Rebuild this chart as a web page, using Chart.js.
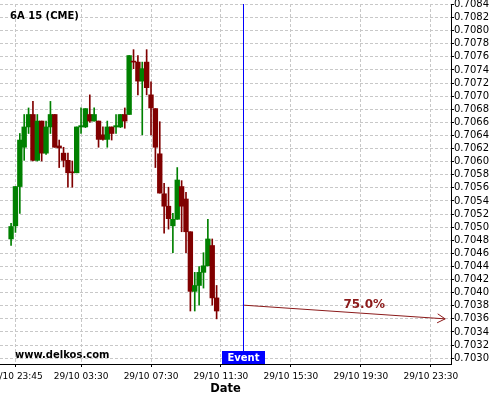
<!DOCTYPE html>
<html>
<head>
<meta charset="utf-8">
<script src="https://cdn.jsdelivr.net/npm/chart.js@4.4.1/dist/chart.umd.min.js"></script>
<style>
  html, body { margin: 0; padding: 0; background: #fff; }
  #wrap { width: 500px; height: 400px; position: relative; }
</style>
</head>
<body>
<div id="wrap"><canvas id="chart"></canvas></div>
<script>
// 15 minute candles, 6A (CME)
const times = [
  '28/10 23:30', '28/10 23:45', '29/10 00:00', '29/10 00:15', '29/10 00:30', '29/10 00:45',
  '29/10 01:00', '29/10 01:15', '29/10 01:30', '29/10 01:45', '29/10 02:00', '29/10 02:15',
  '29/10 02:30', '29/10 02:45', '29/10 03:00', '29/10 03:15', '29/10 03:30', '29/10 03:45',
  '29/10 04:00', '29/10 04:15', '29/10 04:30', '29/10 04:45', '29/10 05:00', '29/10 05:15',
  '29/10 05:30', '29/10 05:45', '29/10 06:00', '29/10 06:15', '29/10 06:30', '29/10 06:45',
  '29/10 07:00', '29/10 07:15', '29/10 07:30', '29/10 07:45', '29/10 08:00', '29/10 08:15',
  '29/10 08:30', '29/10 08:45', '29/10 09:00', '29/10 09:15', '29/10 09:30', '29/10 09:45',
  '29/10 10:00', '29/10 10:15', '29/10 10:30', '29/10 10:45', '29/10 11:00', '29/10 11:15'
];
const opens = [
  0.70482, 0.70502, 0.70562, 0.70622, 0.70653, 0.70672,
  0.70602, 0.70662, 0.70613, 0.70653, 0.70672, 0.70624,
  0.70613, 0.70602, 0.70584, 0.70583, 0.70653, 0.70653,
  0.70672, 0.70662, 0.70662, 0.70641, 0.70634, 0.70653,
  0.70653, 0.70653, 0.70672, 0.70672, 0.70753, 0.70752,
  0.70723, 0.70752, 0.70702, 0.70681, 0.70612, 0.70551,
  0.70532, 0.70502, 0.70512, 0.70562, 0.70543, 0.70493,
  0.70402, 0.70411, 0.70431, 0.70441, 0.70472, 0.70392
];
const highs = [
  0.70506, 0.70562, 0.70643, 0.70672, 0.70682, 0.70692,
  0.70672, 0.70662, 0.70662, 0.70692, 0.70672, 0.70633,
  0.70622, 0.70613, 0.70601, 0.70653, 0.70682, 0.70681,
  0.70702, 0.70682, 0.70662, 0.70653, 0.70662, 0.70653,
  0.70672, 0.70672, 0.70682, 0.70762, 0.70771, 0.70762,
  0.70752, 0.70771, 0.70722, 0.70681, 0.70661, 0.70567,
  0.70561, 0.70521, 0.70591, 0.70571, 0.70553, 0.70493,
  0.70431, 0.70440, 0.70461, 0.70512, 0.70482, 0.70411
];
const lows = [
  0.70472, 0.70492, 0.70521, 0.70602, 0.70643, 0.70601,
  0.70601, 0.70601, 0.70611, 0.70643, 0.70622, 0.70591,
  0.70592, 0.70561, 0.70561, 0.70583, 0.70643, 0.70652,
  0.70660, 0.70662, 0.70622, 0.70633, 0.70622, 0.70633,
  0.70643, 0.70652, 0.70651, 0.70672, 0.70742, 0.70702,
  0.70641, 0.70702, 0.70641, 0.70591, 0.70552, 0.70491,
  0.70497, 0.70461, 0.70512, 0.70493, 0.70461, 0.70372,
  0.70372, 0.70381, 0.70407, 0.70441, 0.70381, 0.70360
];
const closes = [
  0.70501, 0.70562, 0.70633, 0.70653, 0.70672, 0.70602,
  0.70662, 0.70613, 0.70653, 0.70672, 0.70622, 0.70621,
  0.70602, 0.70583, 0.70583, 0.70653, 0.70655, 0.70681,
  0.70662, 0.70672, 0.70634, 0.70634, 0.70653, 0.70643,
  0.70655, 0.70672, 0.70662, 0.70762, 0.70752, 0.70723,
  0.70742, 0.70713, 0.70682, 0.70622, 0.70552, 0.70532,
  0.70513, 0.70512, 0.70572, 0.70532, 0.70493, 0.70402,
  0.70411, 0.70431, 0.70441, 0.70482, 0.70392, 0.70372
];

const xTickLabels = ['28/10 23:45', '29/10 03:30', '29/10 07:30', '29/10 11:30', '29/10 15:30', '29/10 19:30', '29/10 23:30'];

const eventTime = '29/10 12:45';
const forecastTimes = ['29/10 12:45', '30/10 00:19'];
const forecastValues = [0.70381, 0.70360];
const forecastText = '75.0%';

const UP = '#008000', DOWN = '#800000', ARROW = '#8b1a1a';
const FONT = 'DejaVu Sans';

// 'dd/mm hh:mm' -> minutes from 29/10 00:00
function toMinutes(s){
  const [d, hm] = s.split(' ');
  const day = parseInt(d.split('/')[0], 10);
  const [h, m] = hm.split(':').map(Number);
  return (day - 29) * 1440 + h * 60 + m;
}

const mins = times.map(toMinutes);
const tickMins = xTickLabels.map(toMinutes);
const eventMin = toMinutes(eventTime);
const candleColors = opens.map((o, i) => closes[i] >= o ? UP : DOWN);

const overlay = {
  id: 'overlay',
  afterDatasetsDraw(chart){
    const { ctx, chartArea: a, scales: { x, y } } = chart;
    ctx.save();

    // event line
    const ex = Math.round(x.getPixelForValue(eventMin)) + 0.5;
    ctx.strokeStyle = '#0000ff';
    ctx.lineWidth = 1;
    ctx.beginPath();
    ctx.moveTo(ex, a.top);
    ctx.lineTo(ex, a.bottom);
    ctx.stroke();

    // arrow head + percentage
    const x1 = x.getPixelForValue(toMinutes(forecastTimes[0]));
    const y1 = y.getPixelForValue(forecastValues[0]);
    const x2 = x.getPixelForValue(toMinutes(forecastTimes[1]));
    const y2 = y.getPixelForValue(forecastValues[1]);
    const ang = Math.atan2(y2 - y1, x2 - x1);
    ctx.strokeStyle = ARROW;
    ctx.beginPath();
    [-1, 1].forEach(sgn => {
      const t = ang + Math.PI + sgn * Math.PI / 6;
      ctx.moveTo(x2, y2);
      ctx.lineTo(x2 + 9 * Math.cos(t), y2 + 9 * Math.sin(t));
    });
    ctx.stroke();

    const lx = x1 + (x2 - x1) * 0.6;
    const ly = y1 + (y2 - y1) * 0.6 - 8.5;
    ctx.fillStyle = ARROW;
    ctx.font = 'bold 12px ' + FONT;
    ctx.textAlign = 'center';
    ctx.textBaseline = 'middle';
    ctx.fillText(forecastText, lx, ly);

    // event tag on the axis
    ctx.fillStyle = '#0000ff';
    ctx.fillRect(Math.round(ex) - 22, a.bottom - 13, 43, 13);
    ctx.fillStyle = '#fff';
    ctx.font = 'bold 10px ' + FONT;
    ctx.textBaseline = 'alphabetic';
    ctx.fillText('Event', ex, a.bottom - 3);

    // titles
    ctx.fillStyle = '#000';
    ctx.textAlign = 'left';
    ctx.fillText('6A 15 (CME)', 10, 19.3);
    ctx.fillText('www.delkos.com', 15, 357.5);

    ctx.restore();
  }
};

new Chart(document.getElementById('chart'), {
  type: 'bar',
  data: {
    datasets: [
      {
        label: 'wick',
        data: mins.map((m, i) => ({ x: m, y: [lows[i], highs[i]] })),
        backgroundColor: candleColors,
        barThickness: 1,
        grouped: false,
        minBarLength: 1
      },
      {
        label: 'body',
        data: mins.map((m, i) => ({ x: m, y: [opens[i], closes[i]] })),
        backgroundColor: candleColors,
        barThickness: 4.7,
        grouped: false,
        minBarLength: 1
      },
      {
        type: 'line',
        label: 'forecast',
        data: forecastTimes.map((t, i) => ({ x: toMinutes(t), y: forecastValues[i] })),
        borderColor: ARROW,
        borderWidth: 1,
        pointRadius: 0,
        tension: 0
      }
    ]
  },
  options: {
    responsive: true,
    maintainAspectRatio: false,
    animation: false,
    events: [],
    layout: { padding: { top: 4, left: 0, right: 0, bottom: 0 } },
    plugins: { legend: { display: false }, tooltip: { enabled: false } },
    scales: {
      x: {
        type: 'linear',
        position: 'bottom',
        min: -68,
        max: 1479,
        offset: false,
        afterBuildTicks: ax => { ax.ticks = tickMins.map(v => ({ value: v })); },
        afterFit: ax => { ax.height = 36; ax.paddingLeft = 0; ax.paddingRight = 0; },
        ticks: {
          autoSkip: false, maxRotation: 0, minRotation: 0, padding: 4,
          color: '#000', font: { family: FONT, size: 9 },
          callback: (v, i) => xTickLabels[i]
        },
        grid: { color: '#c8c8c8', lineWidth: 1, tickLength: 3, tickColor: '#000', offset: false },
        border: { display: true, color: '#000', width: 1, dash: [3, 2] },
        title: {
          display: true, text: 'Date', color: '#000',
          font: { family: FONT, size: 11.5, weight: 'bold' },
          padding: { top: 0, bottom: 4 }
        }
      },
      y: {
        type: 'linear',
        position: 'right',
        min: 0.702911,
        max: 0.708407,
        beginAtZero: false,
        afterFit: ax => { ax.width = 49; ax.paddingTop = 0; ax.paddingBottom = 0; },
        ticks: {
          stepSize: 0.0002, includeBounds: false, autoSkip: false, padding: 0,
          color: '#000', font: { family: FONT, size: 10 },
          callback: v => v.toFixed(4)
        },
        grid: { color: '#c8c8c8', lineWidth: 1, tickLength: 3, tickColor: '#000' },
        border: { display: true, color: '#000', width: 1, dash: [3, 2] }
      }
    }
  },
  plugins: [overlay]
});
</script>
</body>
</html>
